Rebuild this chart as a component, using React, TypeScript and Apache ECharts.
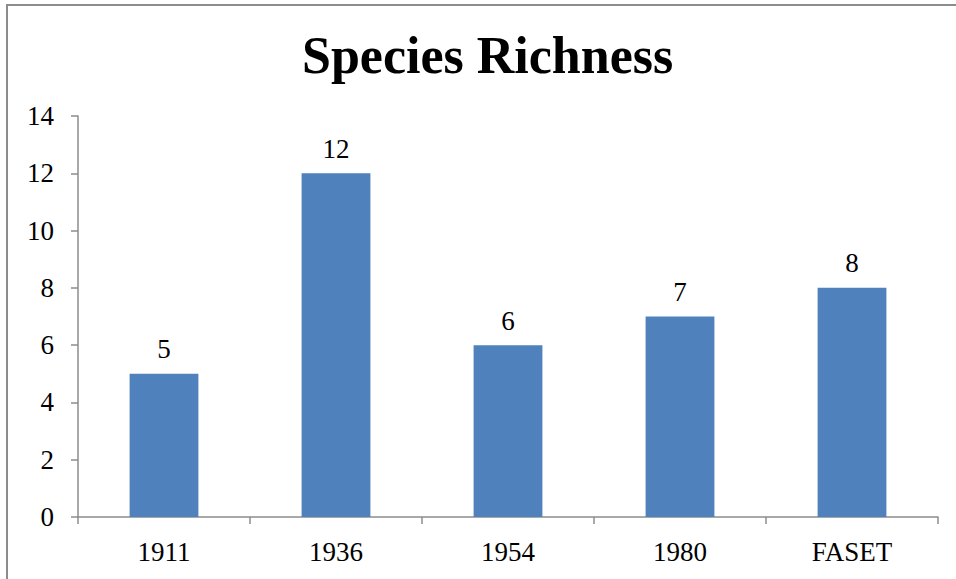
import React, { useEffect, useRef } from "react";
import * as echarts from "echarts";

const categories = ["1911", "1936", "1954", "1980", "FASET"];
const richness = [5, 12, 6, 7, 8];
const yTicks = [0, 2, 4, 6, 8, 10, 12, 14];

export default function App() {
  const ref = useRef<HTMLDivElement>(null);
  useEffect(() => {
    document.body.style.margin = "0";
    const chart = echarts.init(ref.current!, null, { renderer: "svg" });
    chart.setOption({
      animation: false,
      backgroundColor: "#ffffff",
      title: {
        text: "Species Richness",
        left: 297,
        top: 24,
        textStyle: {
          fontFamily: "Liberation Serif",
          fontWeight: "bold",
          fontSize: 52,
          color: "#000",
        },
      },
      graphic: [
        {
          type: "rect",
          shape: { x: 7, y: 5, width: 1000, height: 700 },
          style: { fill: "none", stroke: "#8c8c8c", lineWidth: 2 },
          silent: true,
        },
      ],
      grid: { left: 78, right: 18, top: 116, bottom: 62 },
      xAxis: {
        type: "category",
        data: categories,
        axisLine: { show: true, lineStyle: { color: "#8c8c8c", width: 1.5 } },
        axisTick: { show: true, length: 7, alignWithLabel: false, lineStyle: { color: "#8c8c8c", width: 1.5 } },
        axisLabel: {
          margin: 21,
          fontFamily: "Liberation Serif",
          fontSize: 27,
          color: "#000",
        },
      },
      yAxis: {
        type: "value",
        min: yTicks[0],
        max: yTicks[yTicks.length - 1],
        interval: 2,
        axisLine: { show: true, lineStyle: { color: "#8c8c8c", width: 1.5 } },
        axisTick: { show: true, length: 7, lineStyle: { color: "#8c8c8c", width: 1.5 } },
        splitLine: { show: false },
        axisLabel: {
          margin: 24,
          fontFamily: "Liberation Serif",
          fontSize: 27,
          color: "#000",
        },
      },
      series: [
        {
          type: "bar",
          data: richness,
          barWidth: "40%",
          itemStyle: { color: "#4F81BD" },
          label: {
            show: true,
            position: "top",
            distance: 11,
            fontFamily: "Liberation Serif",
            fontSize: 27,
            color: "#000",
          },
        },
      ],
    });
    return () => chart.dispose();
  }, []);
  return <div ref={ref} style={{ width: 956, height: 579 }} />;
}
